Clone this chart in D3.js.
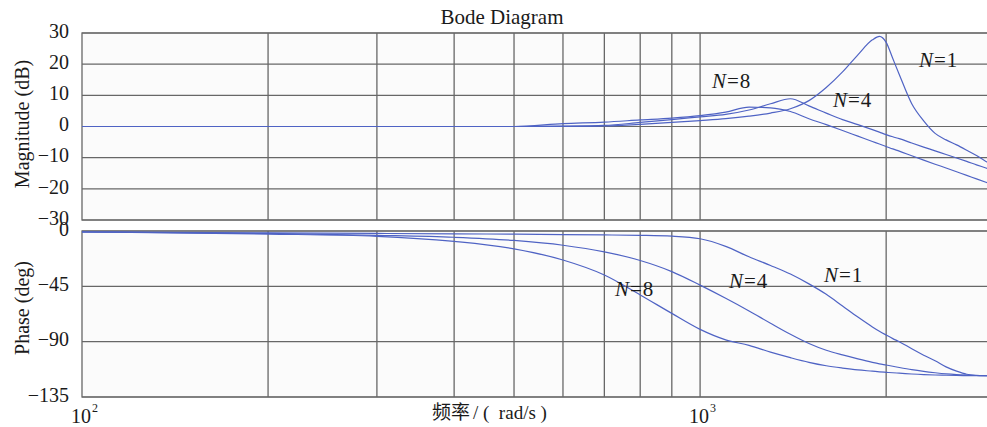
<!DOCTYPE html>
<html>
<head>
<meta charset="utf-8">
<script src="https://cdn.jsdelivr.net/npm/d3@7"></script>
<style>
  html, body { margin: 0; padding: 0; background: #ffffff; }
  svg { display: block; }
</style>
</head>
<body>
<script>
// ---------------- data ----------------
const freq = [100, 200, 300, 400, 500, 600, 700, 800, 900, 1000, 1100, 1200, 1300, 1400, 1500, 1600, 1700, 1800, 1900, 1950, 2000, 2050, 2100, 2200, 2300, 2400, 2500, 2600, 2700, 2800, 2900, 3000];

const magN1 = [0, 0, 0, 0, 0, 0.05, 0.2, 0.7, 1.3, 1.9, 2.5, 3.3, 4.3, 5.7, 8.3, 12.5, 17.5, 23, 27.8, 28.9, 27, 21.8, 16.7, 7.3, 1.8, -2.2, -4.3, -5.9, -7.6, -9.3, -11.2, -12.5];
const magN4 = [0, 0, 0, 0, 0, 0.1, 0.35, 1.3, 2.2, 3.1, 3.9, 5.3, 7.3, 8.9, 6.6, 4.3, 2.2, 0.6, -1.0, -1.8, -2.6, -3.3, -3.9, -5.3, -6.6, -7.8, -9.0, -10.1, -11.2, -12.3, -13.3, -14.3];
const magN8 = [0, 0, 0, 0, 0, 0.9, 1.4, 2.1, 2.7, 3.5, 4.6, 6.2, 6.0, 4.8, 2.5, 0.6, -1.3, -3.1, -4.8, -5.6, -6.4, -7.2, -7.9, -9.4, -10.8, -12.1, -13.3, -14.5, -15.7, -16.8, -17.9, -19.0];

const phaseN1 = [-0.8, -1.5, -2, -2.3, -2.6, -2.9, -3.2, -3.5, -4.2, -6.3, -12.5, -21, -28, -35, -43, -51.5, -61, -70, -78, -81.5, -84.6, -87.5, -90, -95.8, -101, -105.5, -110.5, -114, -116.5, -117.4, -117.7, -117.8];
const phaseN4 = [-0.8, -2, -3.5, -5.1, -7.7, -11.6, -17, -24, -33, -44, -54.7, -65, -75, -84, -91.5, -97, -100.8, -104, -106.8, -108, -109, -110, -111, -112.8, -114.2, -115.3, -116.2, -116.8, -117.2, -117.5, -117.7, -117.8];
const phaseN8 = [-0.8, -2.5, -4.3, -8.5, -14.5, -23.6, -35.8, -52, -67, -80, -88.5, -93, -98.5, -103, -106.8, -109.6, -111.5, -113, -114, -114.5, -114.9, -115.3, -115.6, -116.3, -116.8, -117.1, -117.3, -117.5, -117.6, -117.7, -117.7, -117.8];

const seriesNames = ["N=1", "N=4", "N=8"];
const magTicks = [30, 20, 10, 0, -10, -20, -30];
const phaseTicks = [0, -45, -90, -135];
const gridFreqs = [200, 300, 400, 500, 600, 700, 800, 900, 1000, 2000, 3000];
const xTickFreqs = [100, 1000];
const xTickExp = ["2", "3"];

// ---------------- layout ----------------
const W = 987, H = 427;
const left = 82, right = 995;
const magTop = 33, magBottom = 220;
const phTop = 231, phBottom = 397;
const lineColor = "#4f63c4";
const gridColor = "#676767";
const serif = "'Liberation Serif', 'Times New Roman', 'DejaVu Serif', serif";

const svg = d3.select("body").append("svg").attr("width", W).attr("height", H)
  .attr("font-family", serif).style("font-family", serif);

const x = d3.scaleLog().domain([100, 3000]).range([left, right]);
const yMag = d3.scaleLinear().domain([-30, 30]).range([magBottom, magTop]);
const yPh = d3.scaleLinear().domain([-135, 0]).range([phBottom, phTop]);

const defs = svg.append("defs");
defs.append("clipPath").attr("id", "clipMag").append("rect")
  .attr("x", left).attr("y", magTop).attr("width", right - left).attr("height", magBottom - magTop);
defs.append("clipPath").attr("id", "clipPh").append("rect")
  .attr("x", left).attr("y", phTop).attr("width", right - left).attr("height", phBottom - phTop);

function panel(y, ticks, top, bottom, clipId, series) {
  const g = svg.append("g");
  g.append("rect").attr("x", left).attr("y", top).attr("width", right - left).attr("height", bottom - top)
    .attr("fill", "#fbfbfb");
  g.selectAll("line.h").data(ticks).enter().append("line")
    .attr("x1", left).attr("x2", right)
    .attr("y1", d => y(d)).attr("y2", d => y(d))
    .attr("stroke", gridColor).attr("stroke-width", 1.1);
  g.selectAll("line.v").data(gridFreqs).enter().append("line")
    .attr("x1", d => x(d)).attr("x2", d => x(d))
    .attr("y1", top).attr("y2", bottom)
    .attr("stroke", gridColor).attr("stroke-width", 1.3);
  g.append("rect").attr("x", left).attr("y", top).attr("width", right - left).attr("height", bottom - top)
    .attr("fill", "none").attr("stroke", gridColor).attr("stroke-width", 1.3);
  g.selectAll("text.tk").data(ticks).enter().append("text")
    .attr("x", left - 13).attr("y", d => y(d) - 2).attr("dy", "0.34em")
    .attr("text-anchor", "end").attr("font-size", 20).attr("fill", "#1a1a1a")
    .text(d => d < 0 ? "\u2212" + Math.abs(d) : d);
  const line = d3.line().x((d, i) => x(freq[i])).y(d => y(d)).curve(d3.curveMonotoneX);
  g.append("g").attr("clip-path", `url(#${clipId})`)
    .selectAll("path").data(series).enter().append("path")
    .attr("d", d => line(d)).attr("fill", "none")
    .attr("stroke", lineColor).attr("stroke-width", 1.2);
  return g;
}

panel(yMag, magTicks, magTop, magBottom, "clipMag", [magN1, magN4, magN8]);
panel(yPh, phaseTicks, phTop, phBottom, "clipPh", [phaseN1, phaseN4, phaseN8]);

function nLabel(name, px, py) {
  const parts = name.split("=");
  const t = svg.append("text").attr("x", px).attr("y", py).attr("font-size", 21).attr("fill", "#1a1a1a");
  t.append("tspan").attr("font-style", "italic").text(parts[0]);
  t.append("tspan").attr("dx", 1).text("=");
  t.append("tspan").attr("dx", 1).text(parts[1]);
}
nLabel(seriesNames[2], 712, 88);
nLabel(seriesNames[1], 833, 107);
nLabel(seriesNames[0], 919, 67);
nLabel(seriesNames[2], 615, 296);
nLabel(seriesNames[1], 729, 288);
nLabel(seriesNames[0], 824, 282);

svg.append("text").attr("x", 502).attr("y", 24).attr("text-anchor", "middle")
  .attr("font-size", 21).attr("fill", "#1a1a1a").text("Bode Diagram");

svg.append("text").attr("transform", "translate(29,124) rotate(-90)")
  .attr("text-anchor", "middle").attr("font-size", 20).attr("fill", "#1a1a1a").text("Magnitude (dB)");
svg.append("text").attr("transform", "translate(29,308) rotate(-90)")
  .attr("text-anchor", "middle").attr("font-size", 20).attr("fill", "#1a1a1a").text("Phase (deg)");

xTickFreqs.forEach((f, i) => {
  const t = svg.append("text").attr("x", x(f) - 11).attr("y", 423).attr("font-size", 20).attr("fill", "#1a1a1a");
  t.append("tspan").text("10");
  t.append("tspan").attr("dy", -11).attr("dx", 1).attr("font-size", 12).text(xTickExp[i]);
});

const xl = svg.append("text").attr("x", 432).attr("y", 419).attr("font-size", 19).attr("fill", "#1a1a1a");
xl.append("tspan").style("font-family", "'Noto Sans CJK SC', sans-serif").text("频率");
xl.append("tspan").attr("xml:space", "preserve").attr("dx", 3).text("/ (  rad/s )");
</script>
</body>
</html>
